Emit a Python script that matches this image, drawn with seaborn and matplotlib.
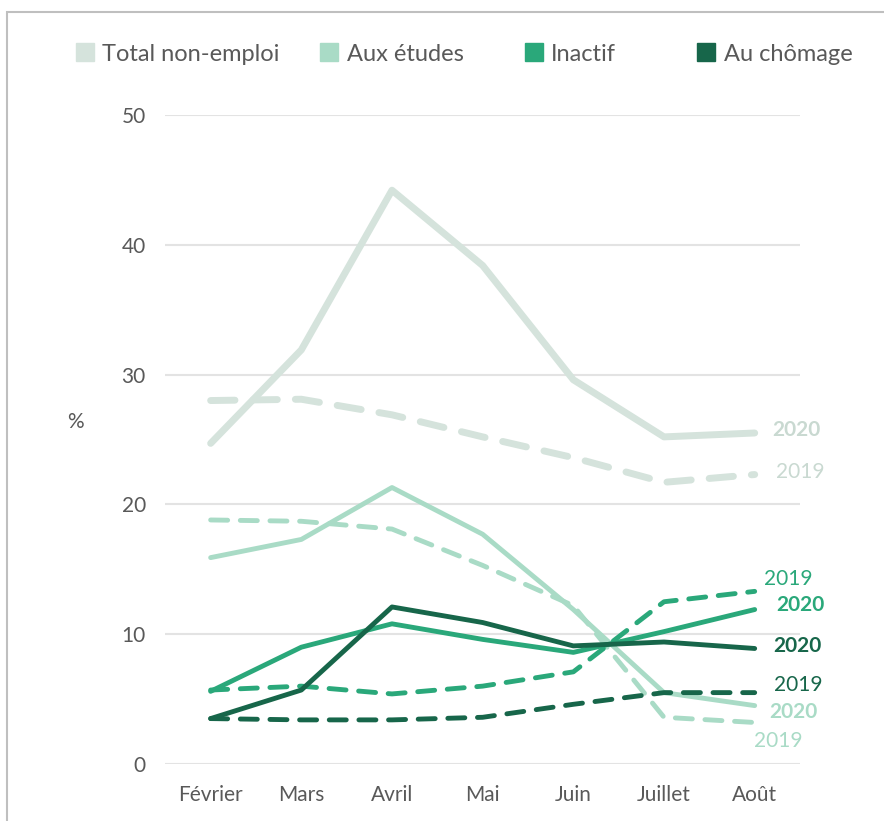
import pandas as pd
import matplotlib.pyplot as plt
import seaborn as sns
from matplotlib.lines import Line2D
from matplotlib.patches import Rectangle

months = ["Février", "Mars", "Avril", "Mai", "Juin", "Juillet", "Août"]

total_2020 = [24.7, 31.9, 44.2, 38.4, 29.6, 25.2, 25.5]
total_2019 = [28.0, 28.1, 26.9, 25.2, 23.6, 21.7, 22.3]
etudes_2020 = [15.9, 17.3, 21.3, 17.7, 11.9, 5.5, 4.5]
etudes_2019 = [18.8, 18.7, 18.1, 15.3, 12.2, 3.6, 3.2]
inactif_2020 = [5.6, 9.0, 10.8, 9.6, 8.6, 10.2, 11.9]
inactif_2019 = [5.7, 6.0, 5.4, 6.0, 7.1, 12.5, 13.3]
chomage_2020 = [3.5, 5.7, 12.1, 10.9, 9.1, 9.4, 8.9]
chomage_2019 = [3.5, 3.4, 3.4, 3.6, 4.6, 5.5, 5.5]

categories = ["Total non-emploi", "Aux études", "Inactif", "Au chômage"]
colors = {"Total non-emploi": "#d5e3dc", "Aux études": "#a9dbc6",
          "Inactif": "#2aa87a", "Au chômage": "#17664a"}
text_colors = {"Total non-emploi": "#c9d9d1", "Aux études": "#a9dbc6",
               "Inactif": "#2aa87a", "Au chômage": "#17664a"}
widths = {"Total non-emploi": 5.0, "Aux études": 3.5, "Inactif": 3.5, "Au chômage": 3.5}
# left edge of each legend entry, as a figure fraction
legend_x = [0.085, 0.362, 0.593, 0.788]

series = {
    ("Total non-emploi", "2020"): total_2020,
    ("Total non-emploi", "2019"): total_2019,
    ("Aux études", "2020"): etudes_2020,
    ("Aux études", "2019"): etudes_2019,
    ("Inactif", "2020"): inactif_2020,
    ("Inactif", "2019"): inactif_2019,
    ("Au chômage", "2020"): chomage_2020,
    ("Au chômage", "2019"): chomage_2019,
}

rows = []
for (cat, year), vals in series.items():
    for i, v in enumerate(vals):
        rows.append({"cat": cat, "year": year, "x": i, "value": v})
df = pd.DataFrame(rows)

# end labels: (category, year) -> (x offset after last month, y)
label_pos = {
    ("Total non-emploi", "2020"): (0.19, 25.7),
    ("Total non-emploi", "2019"): (0.24, 22.5),
    ("Inactif", "2019"): (0.10, 14.25),
    ("Inactif", "2020"): (0.24, 12.25),
    ("Au chômage", "2020"): (0.21, 9.1),
    ("Au chômage", "2019"): (0.21, 6.1),
    ("Aux études", "2020"): (0.165, 4.0),
    ("Aux études", "2019"): (-0.01, 1.8),
}

sns.set_style("white")
plt.rcParams["font.family"] = ["Lato", "DejaVu Sans"]

fig = plt.figure(figsize=(8.84, 8.21), dpi=100)
ax = fig.add_axes([0.187, 0.0694, 0.718, 0.7906])

for (cat, year), vals in series.items():
    sub = df[(df["cat"] == cat) & (df["year"] == year)]
    line_ls = "-" if year == "2020" else (0, (3.5, 2.6))
    sns.lineplot(data=sub, x="x", y="value", ax=ax, color=colors[cat],
                 linewidth=widths[cat], linestyle=line_ls, sort=False,
                 legend=False, solid_capstyle="round", dash_capstyle="round")

for (cat, year), (dx, y) in label_pos.items():
    ax.text(6 + dx, y, year, color=text_colors[cat], fontsize=15,
            fontweight="bold" if year == "2020" else "normal",
            va="center", ha="left", clip_on=False)

ax.set_xlim(-0.5, 6.5)
ax.set_ylim(0, 50)
ax.set_yticks([0, 10, 20, 30, 40, 50])
ax.set_xticks(range(len(months)))
ax.set_xticklabels(months)
ax.yaxis.grid(True, color="#e3e3e3", linewidth=1.5)
ax.xaxis.grid(False)
for s in ax.spines.values():
    s.set_visible(False)
ax.tick_params(axis="both", length=0, labelsize=15, labelcolor="#595959")
ax.tick_params(axis="y", pad=14)
ax.tick_params(axis="x", pad=15)
ax.set_xlabel("")
ax.set_ylabel("%", rotation=0, fontsize=15, color="#595959")
ax.yaxis.set_label_coords(-0.142, 0.512)

for c, lx in zip(categories, legend_x):
    h = Line2D([0], [0], marker="s", linestyle="none", markersize=13,
               markerfacecolor=colors[c], markeredgecolor=colors[c])
    fig.legend([h], [c], loc="center left", bbox_to_anchor=(lx, 0.934),
               frameon=False, fontsize=17, handlelength=0.8,
               handletextpad=0.35, borderpad=0, borderaxespad=0,
               labelcolor="#595959")

fig.patches.append(Rectangle((0.008, -0.05), 1.1, 1.035, transform=fig.transFigure,
                             fill=False, edgecolor="#bfbfbf", linewidth=1.5))

fig.savefig("out.png", dpi=100)
